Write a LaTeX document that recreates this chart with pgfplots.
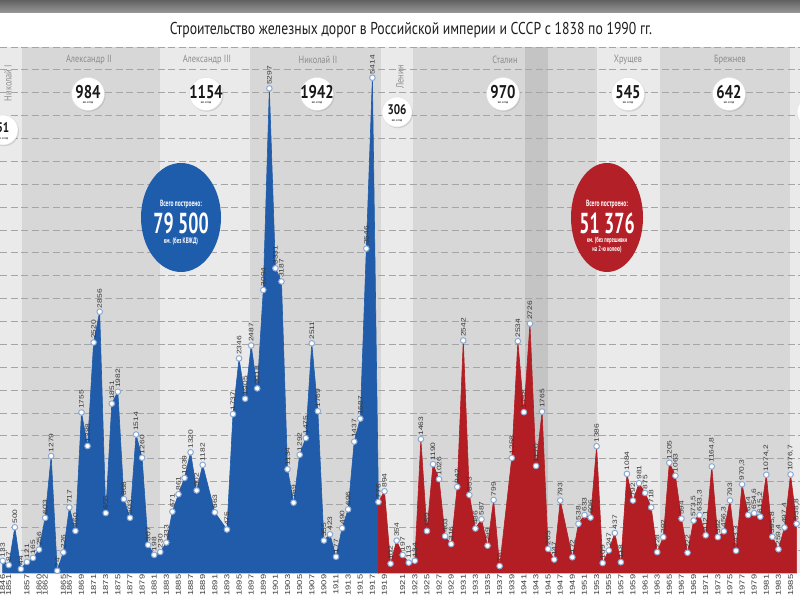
\documentclass[border=0pt]{standalone}
\usepackage{fontspec}
\setmainfont{Liberation Sans}
\newfontfamily\wide{Liberation Sans}[FakeStretch=1.3]
\newfontfamily\cond{PT Sans}[FakeStretch=0.8]
\newfontfamily\condx{PT Sans}[FakeStretch=0.62]
\usepackage{pgfplots}
\pgfplotsset{compat=1.18}
\usepackage{pgfplotstable}
\usetikzlibrary{shadows}
\definecolor{bblue}{RGB}{32,92,170}
\definecolor{rred}{RGB}{178,30,36}
\definecolor{cblue}{RGB}{30,92,172}
\definecolor{cred}{RGB}{180,32,40}
\definecolor{bandL}{RGB}{234,234,234}
\definecolor{bandD}{RGB}{215,215,215}
\definecolor{bandS}{RGB}{196,196,196}
\definecolor{ring}{RGB}{140,170,212}
\definecolor{labgray}{RGB}{55,55,55}
\definecolor{rulergray}{RGB}{140,140,140}
\definecolor{gridgray}{RGB}{165,165,165}

\pgfplotstableread{
x y lab
0 133 133
1 87 87
2 500 500
3 44 44
4 121 121
5 165 165
6 256 256
7 603 603
8 1279 1279
9 24 24
10 226 226
11 717 717
12 460 460
13 1755 1755
14 1388 1388
15 2520 2520
16 2856 2856
17 655 655
18 1851 1851
19 1982 1982
20 808 808
21 603 603
22 1514 1514
23 1260 1260
24 307 307
25 198 198
26 230 230
27 333 333
28 671 671
29 861 861
30 1039 1039
31 1320 1320
32 902 902
33 1182 1182
35 663 663
37 475 475
38 1737 1737
39 2346 2346
40 1905 1905
41 2487 2487
42 2018 2018
43 3094 3094
44 5297 5297
45 3331 3331
46 3187 3187
47 1134 1134
48 769 769
49 1292 1292
50 1475 1475
51 2511 2511
52 1769 1769
53 355 355
54 423 423
55 177 177
56 490 490
57 696 696
58 1437 1437
59 1687 1687
60 3546 3546
61 5414 5414
62 776 776
}\bluedata

\pgfplotstableread{
x y lab
62 776 776
63 894 894
64 102 102
65 354 354
66 197 197
67 113 113
68 134 134
69 1463 1463
70 459 459
71 1190 1190
72 1026 1026
73 403 403
74 316 316
75 942 942
76 2542 2542
77 853 853
78 486 486
79 587 587
80 299 299
81 799 799
82 76 76
84 1258 1258
85 2534 2534
86 1758 1758
87 2726 2726
88 1170 1170
89 1765 1765
90 263 263
91 147 147
92 793 793
94 172 172
95 538 538
96 633 633
97 606 606
98 1386 1386
99 109 109
100 247 247
101 437 437
102 118 118
103 1084 1084
104 792 792
105 981 981
106 875 875
107 718 718
108 228 228
109 392 392
110 1205 1205
111 1063 1063
112 594 594
113 222 222
114 573.5 573,5
115 633.3 633,3
116 412.1 412,1
117 1164.8 1164,8
118 392 392
119 456.3 456,3
120 793 793
121 243.3 243,3
122 970.3 970,3
123 634 634
124 654.6 654,6
125 615.2 615,2
126 1074.2 1074,2
127 395.8 395,8
128 259.4 259,4
129 497.4 497,4
130 1076.7 1076,7
131 538.8 538,8
}\reddata

\newcommand\rcirc[5]{% x y number radius numsize
  \node[circle, fill=white, draw=gray!25, minimum size=#4, inner sep=0pt,
        drop shadow={opacity=0.25, shadow xshift=1bp, shadow yshift=-1.2bp}] at (#1,#2) {};
  \node[inner sep=0pt, text=black!90] at (#1,#2+2) {\cond\bfseries\fontsize{#5}{#5}\selectfont #3};
  \node[inner sep=0pt, text=black!80] at (#1,#2-9) {\cond\bfseries\fontsize{3.3}{3.3}\selectfont км. в год};
}

\begin{document}
\begin{tikzpicture}[x=1bp,y=1bp]
\useasboundingbox (0,0) rectangle (800,600);
\clip (0,0) rectangle (800,600);
\fill[white] (0,0) rectangle (800,600);
\shade[top color=black!62, bottom color=black!40] (0,587) rectangle (800,600);
% ruler bands
\fill[bandL] (0,27) rectangle (22,553);
\fill[bandD] (22,27) rectangle (160,553);
\fill[bandL] (160,27) rectangle (250,553);
\fill[bandD] (250,27) rectangle (381,553);
\fill[bandL] (381,27) rectangle (413,553);
\fill[bandD] (413,27) rectangle (597,553);
\fill[bandS] (525,27) rectangle (548,553);
\fill[bandL] (597,27) rectangle (660,553);
\fill[bandD] (660,27) rectangle (790,553);
\fill[bandL] (790,27) rectangle (800,553);

\begin{axis}[
  at={(0bp,27bp)}, anchor=south west,
  scale only axis, width=800bp, height=526bp,
  xmin=-0.446, xmax=131.56, ymin=0, ymax=5750,
  clip=false,
  axis line style={draw=none},
  major tick length=0pt,
  ytick={250,500,...,5750}, yticklabels={},
  ymajorgrids,
  grid style={gridgray, line width=0.75bp, dash pattern=on 7bp off 3.5bp},
  xtick={0,1,4,6,7,10,11,13,15,17,19,21,23,25,27,29,31,33,35,37,39,41,43,45,47,49,51,53,55,57,59,61,63,66,68,70,72,74,76,78,80,82,84,86,88,90,92,94,96,98,100,102,104,106,108,110,112,114,116,118,120,122,124,126,128,130},
  xticklabels={1846,1851,1857,1860,1862,1865,1867,1869,1871,1873,1875,1877,1879,1881,1883,1885,1887,1889,1891,1893,1895,1897,1899,1901,1903,1905,1907,1909,1911,1913,1915,1917,1919,1921,1923,1925,1927,1929,1931,1933,1935,1937,1939,1941,1943,1945,1947,1949,1951,1953,1955,1957,1959,1961,1963,1965,1967,1969,1971,1973,1975,1977,1979,1981,1983,1985},
  xticklabel style={rotate=90, anchor=east, font=\wide\fontsize{7.2}{7.2}\selectfont, text=labgray, inner sep=1.5bp},
]
\addplot[draw=bblue, fill=bblue, line width=0.6bp] table[x=x,y=y] {\bluedata} \closedcycle;
\addplot[draw=rred, fill=rred, line width=0.6bp] table[x=x,y=y] {\reddata} \closedcycle;
\addplot[only marks, mark=*, mark size=2.8bp,
  mark options={fill=white, draw=ring, line width=1bp},
  point meta=explicit symbolic, nodes near coords,
  nodes near coords style={rotate=90, anchor=west, inner sep=3.2bp,
     font=\wide\fontsize{6.5}{6.5}\selectfont, text=labgray}]
  table[x=x,y=y,meta=lab] {\bluedata};
\addplot[only marks, mark=*, mark size=2.8bp,
  mark options={fill=white, draw=ring, line width=1bp},
  skip coords between index={0}{1},
  point meta=explicit symbolic, nodes near coords,
  nodes near coords style={rotate=90, anchor=west, inner sep=3.2bp,
     font=\wide\fontsize{6.5}{6.5}\selectfont, text=labgray}]
  table[x=x,y=y,meta=lab] {\reddata};
\end{axis}

% title
\node[text=black!88] at (411,570) {\cond\fontsize{17.2}{17.2}\selectfont Строительство железных дорог в Российской империи и СССР с 1838 по 1990 гг.};

% ruler names
\begin{scope}[every node/.style={text=rulergray, inner sep=0pt}]
\node at (89,540) {\cond\fontsize{10.5}{10.5}\selectfont Александр II};
\node at (207,540) {\cond\fontsize{10.5}{10.5}\selectfont Александр III};
\node at (318,540) {\cond\fontsize{10.5}{10.5}\selectfont Николай II};
\node at (505,540) {\cond\fontsize{10.5}{10.5}\selectfont Сталин};
\node at (628,540) {\cond\fontsize{10.5}{10.5}\selectfont Хрущев};
\node at (730,540) {\cond\fontsize{10.5}{10.5}\selectfont Брежнев};
\node[rotate=90] at (8,517) {\cond\fontsize{10.5}{10.5}\selectfont Николай I};
\node[rotate=90] at (400,523) {\cond\fontsize{10.5}{10.5}\selectfont Ленин};
\end{scope}

% average circles
\rcirc{88}{506}{984}{33bp}{18.5}
\rcirc{206}{506}{1154}{33bp}{18.5}
\rcirc{317}{506}{1942}{33bp}{18.5}
\rcirc{503}{506}{970}{33bp}{18.5}
\rcirc{628}{506}{545}{33bp}{18.5}
\rcirc{729}{506}{642}{33bp}{18.5}
\rcirc{397}{488}{306}{30bp}{14}
\rcirc{3}{470}{51}{30bp}{14}
\rcirc{812}{488}{}{30bp}{14}

% totals
\fill[cblue] (181,382.5) ellipse [x radius=40, y radius=54.5];
\node[text=white, inner sep=0pt] at (181,396) {\condx\bfseries\fontsize{9}{9}\selectfont Всего построено:};
\node[text=white, inner sep=0pt] at (181,377) {\condx\bfseries\fontsize{29}{29}\selectfont 79 500};
\node[text=white, inner sep=0pt] at (181,359) {\condx\bfseries\fontsize{8}{8}\selectfont км. (без КВЖД)};

\fill[cred] (607,382.5) ellipse [x radius=36, y radius=54.5];
\node[text=white, inner sep=0pt] at (607,396) {\condx\bfseries\fontsize{9}{9}\selectfont Всего построено:};
\node[text=white, inner sep=0pt] at (607,377) {\condx\bfseries\fontsize{29}{29}\selectfont 51 376};
\node[text=white, inner sep=0pt] at (607,359) {\condx\bfseries\fontsize{7.5}{7.5}\selectfont км. (без перешивки};
\node[text=white, inner sep=0pt] at (607,350) {\condx\bfseries\fontsize{7.5}{7.5}\selectfont на 2-ю колею)};
\end{tikzpicture}
\end{document}
